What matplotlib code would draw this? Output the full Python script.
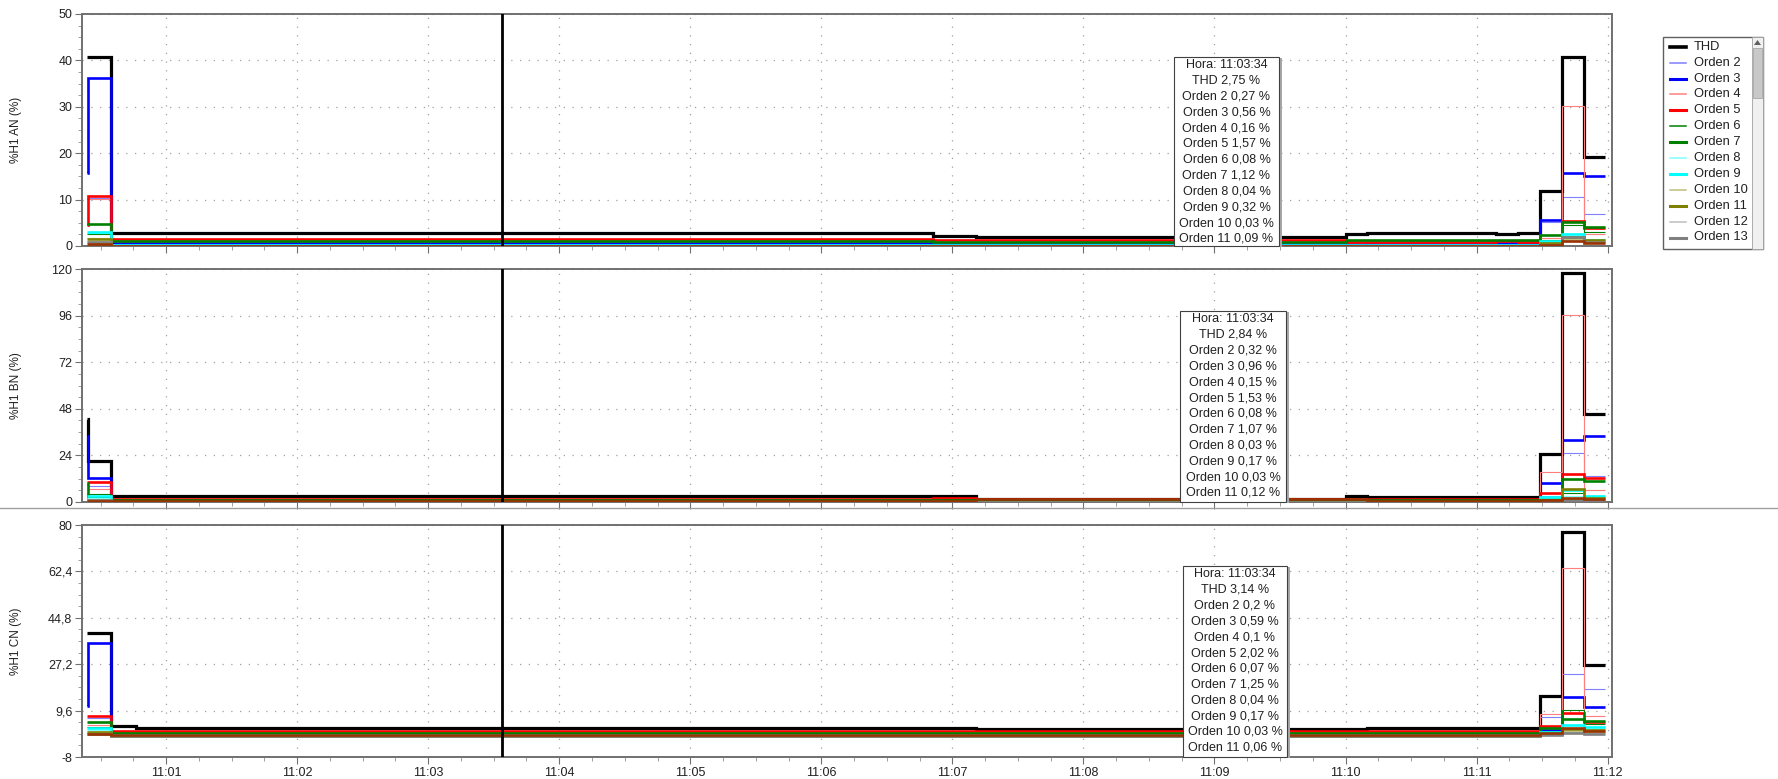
import matplotlib.pyplot as plt
from matplotlib.patches import Rectangle, Polygon
from matplotlib.lines import Line2D
from matplotlib.ticker import FixedLocator

plt.rcParams['font.family'] = ['Liberation Sans', 'DejaVu Sans']

W, H = 1778, 779

# step edges, seconds after 11:00:00
edges = [24, 24.4, 35, 46, 411, 431, 600, 610, 669, 679, 689, 699, 709, 719]
cursor_t = 214  # 11:03:34

names = ["THD", "Orden 2", "Orden 3", "Orden 4", "Orden 5", "Orden 6", "Orden 7",
         "Orden 8", "Orden 9", "Orden 10", "Orden 11", "Orden 12", "Orden 13", "Orden 15"]

an = {
    "THD":      [40.7, 40.7, 2.75, 2.75, 2.2, 1.9, 2.6, 2.85, 2.5, 2.85, 11.9, 40.7, 19.1],
    "Orden 2":  [10.4, 10.4, 0.27, 0.27, 0.25, 0.25, 0.3, 0.3, 0.3, 0.3, 5.2, 10.6, 7.0],
    "Orden 3":  [15.7, 36.2, 0.56, 0.56, 0.5, 0.45, 0.5, 0.55, 0.55, 0.55, 5.6, 15.7, 15.1],
    "Orden 4":  [10.2, 10.2, 0.16, 0.16, 0.15, 0.15, 0.15, 0.15, 0.15, 0.15, 1.7, 30.2, 2.6],
    "Orden 5":  [4.5, 10.8, 1.57, 1.57, 1.2, 1.35, 0.9, 0.9, 1.0, 0.9, 0.4, 5.4, 3.9],
    "Orden 6":  [2.5, 2.5, 0.08, 0.08, 0.08, 0.08, 0.1, 0.1, 0.1, 0.1, 1.2, 4.6, 3.0],
    "Orden 7":  [4.8, 4.8, 1.12, 1.12, 0.9, 0.9, 1.2, 1.2, 1.2, 1.2, 2.4, 5.2, 4.2],
    "Orden 8":  [2.8, 2.8, 0.04, 0.04, 0.04, 0.04, 0.05, 0.05, 0.05, 0.05, 0.8, 2.2, 1.6],
    "Orden 9":  [3.1, 3.1, 0.32, 0.32, 0.3, 0.3, 0.3, 0.3, 0.3, 0.3, 1.0, 2.5, 1.4],
    "Orden 10": [1.8, 1.8, 0.03, 0.03, 0.03, 0.03, 0.03, 0.03, 0.03, 0.03, 0.5, 1.5, 1.0],
    "Orden 11": [1.5, 1.5, 0.09, 0.09, 0.09, 0.09, 0.1, 0.1, 0.1, 0.1, 0.6, 1.9, 1.2],
    "Orden 12": [1.0, 1.0, 0.05, 0.05, 0.05, 0.05, 0.05, 0.05, 0.05, 0.05, 0.4, 1.2, 0.8],
    "Orden 13": [0.8, 0.8, 0.06, 0.06, 0.06, 0.06, 0.06, 0.06, 0.06, 0.06, 0.3, 2.0, 0.9],
    "Orden 15": [0.5, 0.5, 0.1, 0.1, 0.1, 0.1, 0.1, 0.1, 0.1, 0.1, 0.3, 1.0, 0.6],
}

bn = {
    "THD":      [43.0, 21.3, 2.84, 2.84, 2.84, 1.7, 3.2, 2.6, 2.4, 2.6, 24.5, 118.0, 45.2],
    "Orden 2":  [8.1, 8.1, 0.32, 0.32, 0.3, 0.3, 0.3, 0.3, 0.3, 0.3, 3.0, 25.4, 13.4],
    "Orden 3":  [34.0, 12.3, 0.96, 0.96, 0.9, 0.8, 0.9, 0.9, 0.9, 0.9, 9.6, 32.0, 34.0],
    "Orden 4":  [6.5, 6.5, 0.15, 0.15, 0.15, 0.15, 0.15, 0.15, 0.15, 0.15, 15.6, 96.3, 6.2],
    "Orden 5":  [10.5, 10.5, 1.53, 1.53, 2.0, 1.6, 1.5, 1.5, 1.5, 1.5, 4.5, 14.4, 12.2],
    "Orden 6":  [4.0, 4.0, 0.08, 0.08, 0.08, 0.08, 0.08, 0.08, 0.08, 0.08, 1.2, 4.5, 2.5],
    "Orden 7":  [10.0, 2.5, 1.07, 1.07, 1.0, 1.0, 1.1, 1.1, 1.1, 1.1, 1.5, 11.7, 10.8],
    "Orden 8":  [2.0, 2.0, 0.03, 0.03, 0.03, 0.03, 0.03, 0.03, 0.03, 0.03, 1.0, 3.0, 2.0],
    "Orden 9":  [3.0, 3.0, 0.17, 0.17, 0.17, 0.17, 0.17, 0.17, 0.17, 0.17, 2.7, 6.0, 3.1],
    "Orden 10": [1.5, 1.5, 0.03, 0.03, 0.03, 0.03, 0.03, 0.03, 0.03, 0.03, 0.8, 2.0, 1.5],
    "Orden 11": [1.2, 1.2, 0.12, 0.12, 0.12, 0.12, 0.12, 0.12, 0.12, 0.12, 1.0, 6.5, 2.0],
    "Orden 12": [1.0, 1.0, 0.05, 0.05, 0.05, 0.05, 0.05, 0.05, 0.05, 0.05, 0.6, 1.5, 1.0],
    "Orden 13": [0.8, 0.8, 0.05, 0.05, 0.05, 0.05, 0.05, 0.05, 0.05, 0.05, 0.5, 1.2, 0.8],
    "Orden 15": [0.6, 0.6, 0.3, 0.3, 0.3, 1.5, 1.4, 0.6, 0.6, 0.6, 1.0, 2.0, 1.5],
}

cn = {
    "THD":      [39.2, 39.2, 3.8, 3.14, 3.14, 2.6, 2.6, 3.0, 3.0, 3.0, 15.1, 77.5, 26.8],
    "Orden 2":  [6.8, 6.8, 0.2, 0.2, 0.2, 0.2, 0.2, 0.2, 0.2, 0.2, 7.1, 23.5, 17.9],
    "Orden 3":  [11.5, 35.1, 0.59, 0.59, 0.55, 0.5, 0.55, 0.55, 0.55, 0.55, 2.2, 14.6, 11.1],
    "Orden 4":  [4.0, 4.0, 0.1, 0.1, 0.1, 0.1, 0.1, 0.1, 0.1, 0.1, 8.3, 63.6, 7.7],
    "Orden 5":  [7.7, 7.7, 2.02, 2.02, 1.8, 1.8, 1.9, 1.9, 1.9, 1.9, 3.8, 8.6, 5.2],
    "Orden 6":  [3.5, 3.5, 0.07, 0.07, 0.07, 0.07, 0.07, 0.07, 0.07, 0.07, 2.0, 9.8, 4.5],
    "Orden 7":  [5.2, 5.2, 1.25, 1.25, 1.2, 1.2, 1.2, 1.2, 1.2, 1.2, 3.0, 6.3, 5.8],
    "Orden 8":  [2.4, 2.4, 0.04, 0.04, 0.04, 0.04, 0.04, 0.04, 0.04, 0.04, 1.0, 3.0, 2.5],
    "Orden 9":  [2.9, 2.9, 0.17, 0.17, 0.17, 0.17, 0.17, 0.17, 0.17, 0.17, 1.5, 4.1, 3.3],
    "Orden 10": [1.6, 1.6, 0.03, 0.03, 0.03, 0.03, 0.03, 0.03, 0.03, 0.03, 0.6, 2.0, 1.4],
    "Orden 11": [1.3, 1.3, 0.06, 0.06, 0.06, 0.06, 0.06, 0.06, 0.06, 0.06, 0.8, 2.6, 2.2],
    "Orden 12": [1.0, 1.0, 0.05, 0.05, 0.05, 0.05, 0.05, 0.05, 0.05, 0.05, 0.5, 1.5, 1.0],
    "Orden 13": [0.8, 0.8, 0.05, 0.05, 0.05, 0.05, 0.05, 0.05, 0.05, 0.05, 0.4, 1.2, 0.9],
    "Orden 15": [0.6, 0.6, 0.5, 0.5, 0.5, 0.5, 0.5, 0.5, 0.5, 0.5, 1.2, 3.0, 1.8],
}

# y axes: labelled ticks per panel
an_ticks = [0, 10, 20, 30, 40, 50]
bn_ticks = [0, 24, 48, 72, 96, 120]
cn_ticks = [-8, 9.6, 27.2, 44.8, 62.4, 80]
ylabels = ["%H1 AN (%)", "%H1 BN (%)", "%H1 CN (%)"]
minute_ticks = [60, 120, 180, 240, 300, 360, 420, 480, 540, 600, 660, 720]

# line styles per series
styles = {
    "THD": ("#000000", 2.3), "Orden 2": ("#7f7fff", 0.8), "Orden 3": ("#0000ff", 1.9),
    "Orden 4": ("#ff7f7f", 0.8), "Orden 5": ("#ff0000", 1.9), "Orden 6": ("#008000", 0.8),
    "Orden 7": ("#008000", 1.9), "Orden 8": ("#7fffff", 0.8), "Orden 9": ("#00ffff", 1.9),
    "Orden 10": ("#bfbf7f", 0.8), "Orden 11": ("#808000", 1.9), "Orden 12": ("#bfbfbf", 0.8),
    "Orden 13": ("#808080", 1.9), "Orden 15": ("#993300", 1.9),
}


def fbox(l, t, r, b):
    return [l / W, 1 - b / H, (r - l) / W, (b - t) / H]


def fmt(v):
    return f"{v:g}".replace(".", ",")


fig = plt.figure(figsize=(W / 100, H / 100), dpi=100)

panels = [
    (fbox(82, 14, 1612, 246), an, an_ticks, 2.5, (1174, 57, 1279, 246)),
    (fbox(82, 269, 1612, 502), bn, bn_ticks, 6, (1180, 311, 1286, 502)),
    (fbox(82, 525, 1612, 757), cn, cn_ticks, 4.4, (1183, 566, 1287, 757)),
]

seg = max(i for i in range(len(edges) - 1) if edges[i] <= cursor_t)
tlabel = f"Hora: 11:{cursor_t // 60:02d}:{cursor_t % 60:02d}"

for i, (rect, data, yt, minor, tip) in enumerate(panels):
    ax = fig.add_axes(rect)
    for name in names:
        c, lw = styles[name]
        ax.stairs(data[name], edges, baseline=None, color=c, lw=lw, zorder=3)
    ax.axvline(cursor_t, color="black", lw=2, zorder=5)

    ax.set_xlim(21.5, 722)
    ax.set_ylim(yt[0], yt[-1])
    ax.yaxis.set_major_locator(FixedLocator(yt))
    ax.set_yticklabels([fmt(v) for v in yt])
    mticks = [yt[0] + k * minor for k in range(int(round((yt[-1] - yt[0]) / minor)) + 1)]
    ax.yaxis.set_minor_locator(FixedLocator(mticks))
    ax.xaxis.set_major_locator(FixedLocator(minute_ticks))
    ax.xaxis.set_minor_locator(FixedLocator(list(range(30, 722, 15))))
    if i == 2:
        ax.set_xticklabels([f"11:{t // 60:02d}" for t in minute_ticks])
    else:
        ax.set_xticklabels([])

    ax.grid(True, which="major", linestyle=(0, (1, 6)), color="#a0a0a0", lw=0.9)
    ax.set_axisbelow(True)
    for s in ax.spines.values():
        s.set_color("#707070")
        s.set_linewidth(1.4)
    ax.tick_params(which="major", length=5, width=0.8, color="#707070",
                   labelsize=9, labelcolor="#202020", pad=2)
    ax.tick_params(which="minor", length=3, width=0.6, color="#909090")
    ax.set_ylabel(ylabels[i], fontsize=8.5, color="#202020")
    ax.yaxis.set_label_coords(-(82 - 22) / 1530, 0.5)

    # tooltip box at cursor
    l, t, r, b = tip
    fig.patches.append(Rectangle(((l + 3) / W, 1 - (b + 1) / H), (r - l) / W, (b - t) / H,
                                 transform=fig.transFigure, facecolor="#a8a8a8",
                                 edgecolor="none", zorder=6))
    fig.patches.append(Rectangle((l / W, 1 - b / H), (r - l) / W, (b - t) / H,
                                 transform=fig.transFigure, facecolor="white",
                                 edgecolor="#404040", lw=0.8, zorder=7))
    lines = [tlabel, f"THD {fmt(data['THD'][seg])} %"]
    lines += [f"Orden {k} {fmt(data[f'Orden {k}'][seg])} %" for k in range(2, 12)]
    xc = (l + r) / 2 / W
    for j, txt in enumerate(lines):
        fig.text(xc, 1 - (t + 8 + j * 15.8) / H, txt, ha="center", va="center",
                 fontsize=9, color="#202020", zorder=8)

# separator line between the middle and lower panels
fig.add_artist(Line2D([0, 1], [1 - 508 / H, 1 - 508 / H], transform=fig.transFigure,
                      color="#a0a0a0", lw=1))

# legend panel with scroll bar
fig.patches.append(Rectangle((1663 / W, 1 - 249 / H), 100 / W, 212 / H, transform=fig.transFigure,
                             facecolor="white", edgecolor="#606060", lw=1))
fig.patches.append(Rectangle((1752 / W, 1 - 249 / H), 11 / W, 212 / H, transform=fig.transFigure,
                             facecolor="#f0f0f0", edgecolor="#a0a0a0", lw=0.6))
fig.patches.append(Rectangle((1753 / W, 1 - 98 / H), 9 / W, 50 / H, transform=fig.transFigure,
                             facecolor="#c8c8c8", edgecolor="#a8a8a8", lw=0.6))
fig.patches.append(Polygon([(1754 / W, 1 - 45 / H), (1761 / W, 1 - 45 / H), (1757.5 / W, 1 - 40 / H)],
                           closed=True, transform=fig.transFigure, facecolor="#606060",
                           edgecolor="none"))
for k, name in enumerate(names[:13]):
    c, lw = styles[name]
    y = 1 - (46.7 + k * 15.9) / H
    fig.add_artist(Line2D([1670 / W, 1686 / W], [y, y], transform=fig.transFigure,
                          color=c, lw=lw + 0.3))
    fig.text(1694 / W, y, name, ha="left", va="center", fontsize=9.3, color="#202020")

fig.savefig("out.png", dpi=100)
